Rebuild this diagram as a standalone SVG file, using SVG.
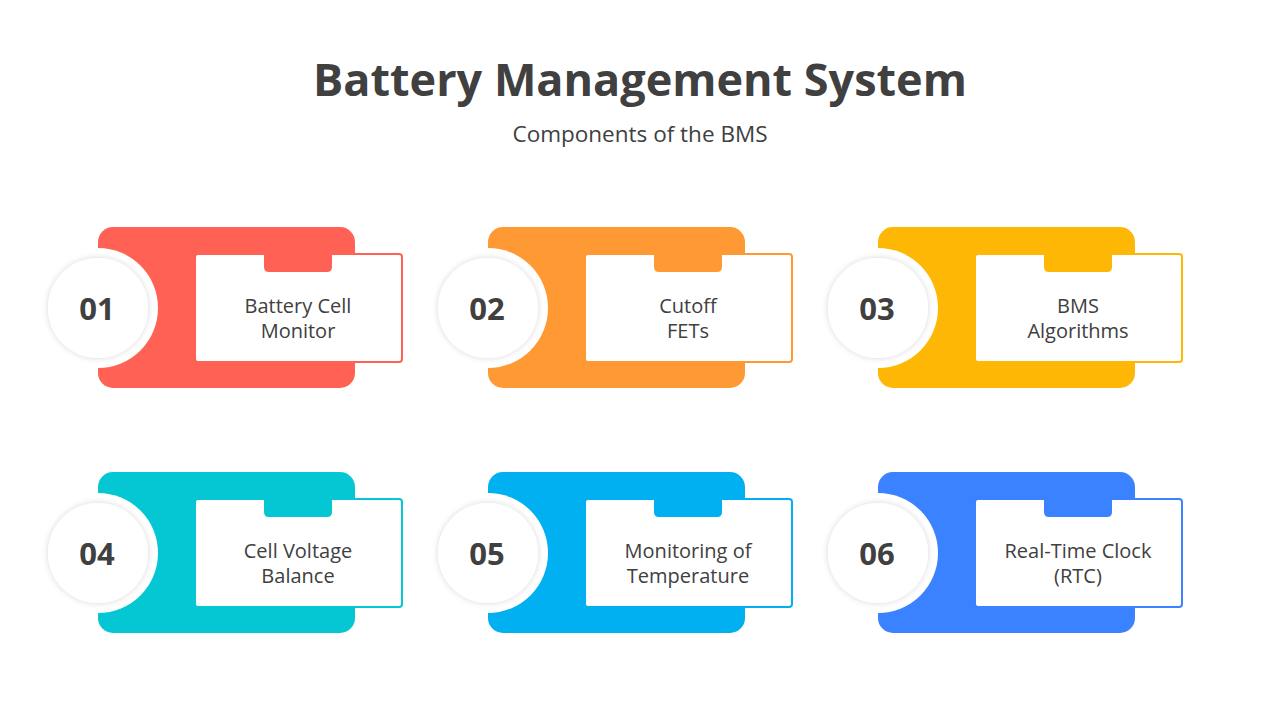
<svg xmlns="http://www.w3.org/2000/svg" width="1280" height="720" viewBox="0 0 1280 720">
  <defs>
    <filter id="sh" x="-30%" y="-30%" width="160%" height="160%">
      <feDropShadow dx="0" dy="0" stdDeviation="3" flood-color="#000" flood-opacity="0.16"/>
    </filter>
    <g id="card">
      <rect x="98" y="227" width="257" height="161" rx="15" fill="currentColor"/>
      <circle cx="98" cy="308" r="60" fill="#fff"/>
      <circle cx="98" cy="308" r="50" fill="#fff" filter="url(#sh)"/>
      <rect x="195" y="254" width="207" height="108" rx="3" fill="#fff" stroke="currentColor" stroke-width="2"/>
      <path d="M264 252 H332 V267 Q332 272 327 272 H269 Q264 272 264 267 Z" fill="currentColor"/>
    </g>
  </defs>
  <style>
    .title { font-family: "Open Sans", "Noto Sans", sans-serif; font-weight: 700; font-size: 45px; fill: #404040; }
    .sub { font-family: "Open Sans", "Noto Sans", sans-serif; font-size: 22.5px; fill: #404040; }
    .num { font-family: "Open Sans", "Noto Sans", sans-serif; font-weight: 700; font-size: 31px; fill: #404040; }
    .lbl { font-family: "Open Sans", "Noto Sans", sans-serif; font-size: 20px; fill: #404040; }
  </style>
  <rect width="1280" height="720" fill="#fff"/>
  <text class="title" x="640" y="96" text-anchor="middle">Battery Management System</text>
  <text class="sub" x="640" y="142" text-anchor="middle">Components of the BMS</text>

  <g id="node-01" style="color:#FF6155">
    <use href="#card"/>
    <text class="num" x="97" y="320" text-anchor="middle">01</text>
    <text class="lbl" x="298" y="313" text-anchor="middle">Battery Cell</text>
    <text class="lbl" x="298" y="338" text-anchor="middle">Monitor</text>
  </g>
  <g id="node-02" style="color:#FF9933" transform="translate(390,0)">
    <use href="#card"/>
    <text class="num" x="97" y="320" text-anchor="middle">02</text>
    <text class="lbl" x="298" y="313" text-anchor="middle">Cutoff</text>
    <text class="lbl" x="298" y="338" text-anchor="middle">FETs</text>
  </g>
  <g id="node-03" style="color:#FFB705" transform="translate(780,0)">
    <use href="#card"/>
    <text class="num" x="97" y="320" text-anchor="middle">03</text>
    <text class="lbl" x="298" y="313" text-anchor="middle">BMS</text>
    <text class="lbl" x="298" y="338" text-anchor="middle">Algorithms</text>
  </g>
  <g id="node-04" style="color:#05C7D3" transform="translate(0,245)">
    <use href="#card"/>
    <text class="num" x="97" y="320" text-anchor="middle">04</text>
    <text class="lbl" x="298" y="313" text-anchor="middle">Cell Voltage</text>
    <text class="lbl" x="298" y="338" text-anchor="middle">Balance</text>
  </g>
  <g id="node-05" style="color:#00B0F0" transform="translate(390,245)">
    <use href="#card"/>
    <text class="num" x="97" y="320" text-anchor="middle">05</text>
    <text class="lbl" x="298" y="313" text-anchor="middle">Monitoring of</text>
    <text class="lbl" x="298" y="338" text-anchor="middle">Temperature</text>
  </g>
  <g id="node-06" style="color:#3A82FF" transform="translate(780,245)">
    <use href="#card"/>
    <text class="num" x="97" y="320" text-anchor="middle">06</text>
    <text class="lbl" x="298" y="313" text-anchor="middle">Real-Time Clock</text>
    <text class="lbl" x="298" y="338" text-anchor="middle">(RTC)</text>
  </g>
  <g id="connectors"/>
</svg>
